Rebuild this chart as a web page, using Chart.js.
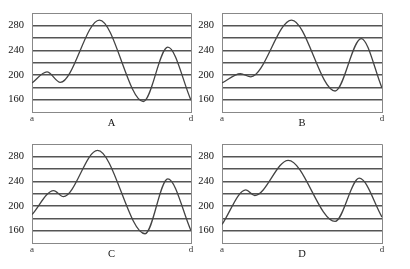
<!DOCTYPE html>
<html>
<head>
<meta charset="utf-8">
<script src="https://cdn.jsdelivr.net/npm/chart.js@4/dist/chart.umd.min.js"></script>
<style>
body{margin:0;background:#fff;width:410px;height:269px;overflow:hidden;position:relative}
canvas{position:absolute}
</style>
</head>
<body>
<canvas id="cA"></canvas>
<canvas id="cB"></canvas>
<canvas id="cC"></canvas>
<canvas id="cD"></canvas>
<script>
// panel names
const panelNames = ["A","B","C","D"]

// x positions (a = 0, d = 1) and values for each curve
const xA = [0, 0.094, 0.178, 0.424, 0.70, 0.854, 1]
const yA = [187, 205, 188, 289, 157, 245, 159]

const xB = [0, 0.115, 0.18, 0.435, 0.707, 0.87, 1]
const yB = [187, 202, 197, 289, 174, 259, 179]

const xC = [0, 0.136, 0.198, 0.412, 0.711, 0.854, 1]
const yC = [186, 225, 215, 290, 155, 244, 160]

const xD = [0, 0.149, 0.205, 0.414, 0.707, 0.858, 1]
const yD = [170, 226, 217, 274, 175, 245, 182]

const xTickLabels = ["a","d"]
const yTickLabels = [160, 200, 240, 280]
const yMin = 140, yMax = 300, yStep = 20

// plot box of each panel on the page: left, top, right, bottom
const boxes = {
A:[32, 6, 191, 112],
B:[222, 6, 382, 112],
C:[32, 137, 191, 243],
D:[222, 137, 382, 243]
}

const series = {A:[xA,yA], B:[xB,yB], C:[xC,yC], D:[xD,yD]}

const axisW = 32, padR = 14, padT = 6, axisH = 22

function drawPanel(name){

const [L,T,R,B] = boxes[name]
const cv = document.getElementById("c"+name)
const w = (R-L) + axisW + padR
const h = (B-T) + padT + axisH
cv.width = w
cv.height = h
cv.style.left = (L-axisW)+"px"
cv.style.top = (T-padT)+"px"

const [xs,ys] = series[name]
const pts = xs.map((x,i)=>({x:x, y:ys[i]}))

new Chart(cv,{
type:"line",
data:{
datasets:[{
data:pts,
borderColor:"#444",
borderWidth:1.3,
pointRadius:0,
fill:false,
cubicInterpolationMode:"monotone"
}]
},
options:{
responsive:false,
animation:false,
layout:{padding:{left:0,right:padR,top:padT,bottom:0}},
plugins:{legend:{display:false},tooltip:{enabled:false}},
scales:{
x:{
type:"linear",
min:0,max:1,
afterFit:s=>{s.height = axisH},
ticks:{
stepSize:1,
padding:1,
maxRotation:0,
autoSkip:false,
color:"#333",
font:{family:"Liberation Serif",size:9},
callback:v=> v===0 ? xTickLabels[0] : (v===1 ? xTickLabels[1] : "")
},
grid:{color:"#888",lineWidth:1,drawTicks:false},
border:{display:true,color:"#888",width:1},
title:{
display:true,
text:name,
color:"#111",
padding:{top:0,bottom:4},
font:{family:"Liberation Serif",size:10.5}
}
},
y:{
min:yMin,max:yMax,
afterFit:s=>{s.width = axisW},
ticks:{
stepSize:yStep,
autoSkip:false,
padding:8,
color:"#111",
font:{family:"Liberation Serif",size:10.5,lineHeight:1},
callback:v=> yTickLabels.includes(v) ? String(v) : ""
},
grid:{
drawTicks:false,
color:c=> (c.tick && (c.tick.value===yMin || c.tick.value===yMax)) ? "#888" : "#555",
lineWidth:c=> (c.tick && (c.tick.value===yMin || c.tick.value===yMax)) ? 1 : 1.5
},
border:{display:true,color:"#888",width:1}
}
}
}
})

}

panelNames.forEach(drawPanel)
</script>
</body>
</html>
